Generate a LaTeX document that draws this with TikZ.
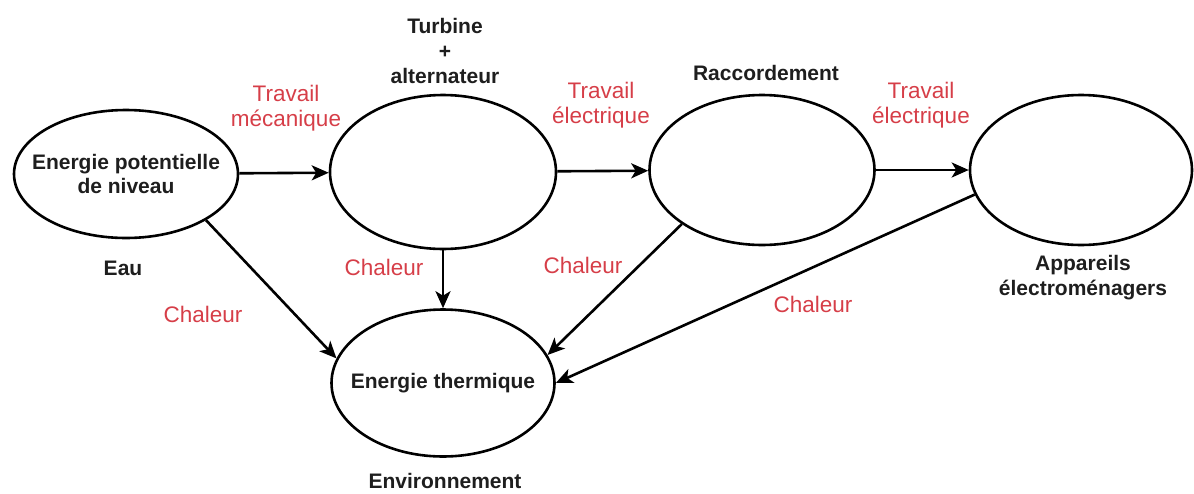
\documentclass[tikz,border=0pt]{standalone}
\usepackage{fontspec}
\setmainfont{Liberation Sans}
\usetikzlibrary{shapes.geometric,arrows.meta}
\definecolor{lblred}{RGB}{214,62,72}
\definecolor{txtblack}{RGB}{30,30,30}
\tikzset{
  bub/.style={ellipse,draw=black,line width=2.6pt,inner sep=0pt},
  blk/.style={align=center,inner sep=0pt,font=\fontsize{21}{25}\selectfont\bfseries,text=txtblack},
  redl/.style={align=center,inner sep=0pt,font=\fontsize{22.5}{25}\selectfont,text=lblred},
  flow/.style={line width=2.6pt,draw=black,-{Stealth[length=17pt,width=15pt,inset=4.5pt]}}
}
\begin{document}
\begin{tikzpicture}[x=1pt,y=-1pt]
\useasboundingbox (0,0) rectangle (1194,493);
% ellipses
\node[bub,minimum width=224pt,minimum height=128pt] (e1) at (126,174) {};
\node[bub,minimum width=226pt,minimum height=154pt] (e2) at (443,172) {};
\node[bub,minimum width=225pt,minimum height=150pt] (e3) at (762,170) {};
\node[bub,minimum width=222pt,minimum height=150pt] (e4) at (1081,170) {};
\node[bub,minimum width=223pt,minimum height=147pt] (e5) at (443,383) {};
% texts inside ellipses
\node[blk,font=\fontsize{21}{24}\selectfont\bfseries] (t1) at (e1) {Energie potentielle\\de niveau};
\node[blk] (t5) at (e5) {Energie thermique};
% black labels
\node[blk] (turb) at (445,51) {Turbine\\+\\alternateur};
\node[blk] (racc) at (766,73) {Raccordement};
\node[blk] (app) at (1083,278) {Appareils\\électroménagers};
\node[blk] (eau) at (123,268) {Eau};
\node[blk] (env) at (445,481) {Environnement};
% red labels
\node[redl] (tm) at (286,108) {Travail\\mécanique};
\node[redl] (te1) at (601,105) {Travail\\électrique};
\node[redl] (te2) at (921,105) {Travail\\électrique};
\node[redl] (ch1) at (203,314) {Chaleur};
\node[redl] (ch2) at (384,267) {Chaleur};
\node[redl] (ch3) at (583,265) {Chaleur};
\node[redl] (ch4) at (813,304) {Chaleur};
% connectors
\draw[flow] (e1) -- (e2);
\draw[flow] (e2) -- (e3);
\draw[flow] (e3) -- (e4);
\draw[flow] (e2) -- (e5);
\draw[flow] (e1.-30) -- (e5.167);
\draw[flow] (e3.214) -- (e5.15);
\draw[flow] (e4.193) -- (e5.east);
\end{tikzpicture}
\end{document}
